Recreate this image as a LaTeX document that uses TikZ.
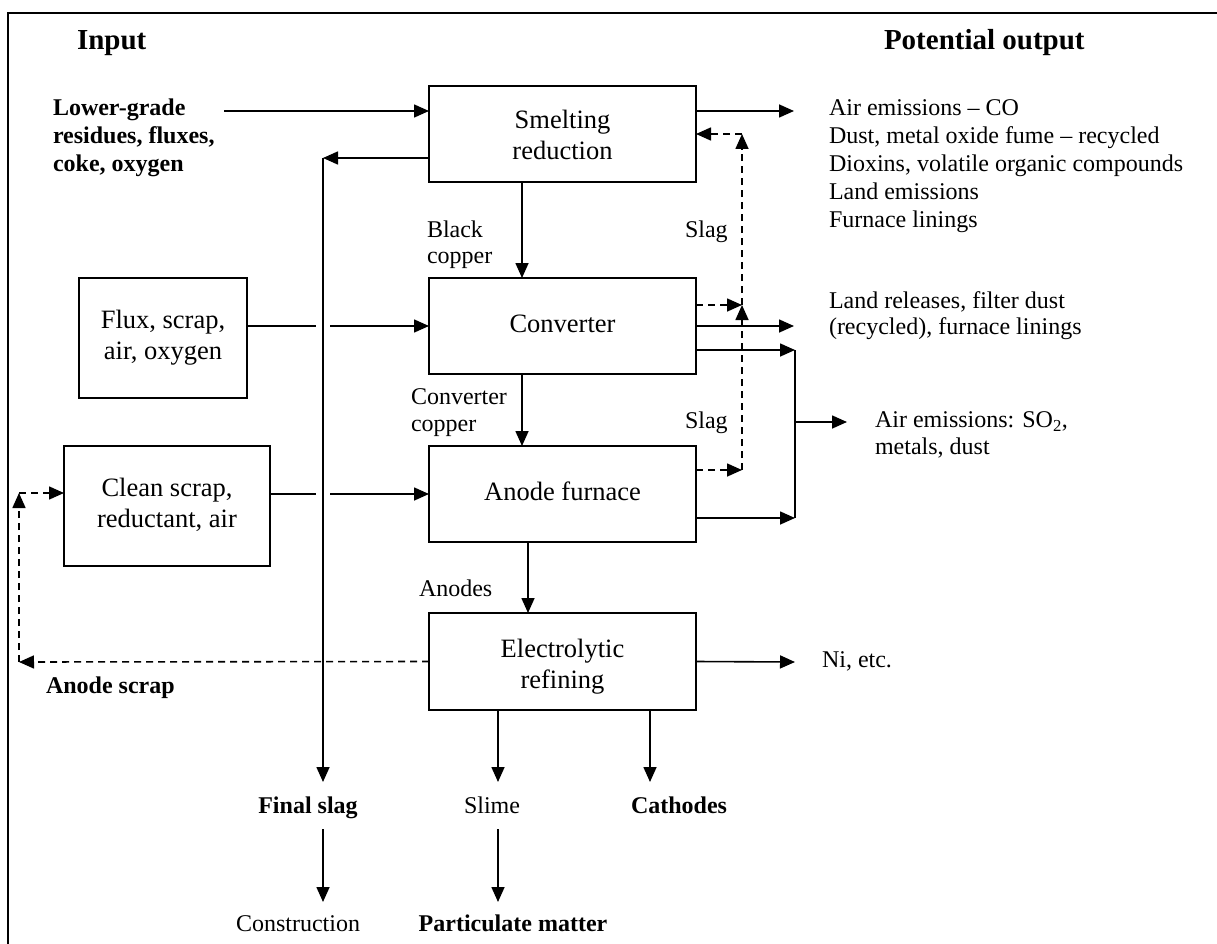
\documentclass[tikz,border=0pt]{standalone}
\usepackage{fontspec}
\setmainfont{Liberation Serif}
\usetikzlibrary{arrows.meta}
\begin{document}
\begin{tikzpicture}[x=1pt,y=-1pt,
  every node/.style={inner sep=0pt, outer sep=0pt, font=\fontsize{24}{28}\selectfont},
  box/.style={draw, line width=1.6pt, align=center, font=\fontsize{26.5}{31}\selectfont},
  btext/.style={align=center, font=\fontsize{26.5}{31}\selectfont},
  arr/.style={line width=1.6pt, -{Triangle[length=15pt,width=13pt]}},
  ln/.style={line width=1.6pt},
  dsh/.style={dash pattern=on 7pt off 5pt},
  lbl/.style={anchor=west, align=left},
  bf/.style={font=\fontsize{24}{28}\selectfont\bfseries},
  head/.style={anchor=west, font=\fontsize{29}{33}\selectfont\bfseries}]
\useasboundingbox (0,0) rectangle (1217,944);
\draw[line width=2.5pt] (8,944) -- (8,13) -- (1217,13);

% process boxes
\node[box, minimum width=267pt, minimum height=96pt] (smelt) at (562.5,134) {};
\node[btext] (smelttext) at (562.5,137.5) {\strut Smelting\\\strut reduction};
\node[box, minimum width=267pt, minimum height=96pt] (conv) at (562.5,326) {\strut Converter};
\node[box, minimum width=267pt, minimum height=96pt] (anode) at (562.5,494) {\strut Anode furnace};
\node[box, minimum width=267pt, minimum height=97pt] (elec) at (562.5,661.5) {};
\node[btext] (electext) at (562.5,667) {\strut Electrolytic\\\strut refining};
\node[box, minimum width=168pt, minimum height=120pt] (flux) at (163,338) {\strut Flux, scrap,\\\strut air, oxygen};
\node[box, minimum width=206pt, minimum height=120pt] (clean) at (167,506) {\strut Clean scrap,\\\strut reductant, air};

% headings and labels
\node[head] (inp) at (77,43) {\strut Input};
\node[head] (pout) at (884,43) {\strut Potential output};
\node[bf, lbl] (lower) at (53,138) {\strut Lower-grade\\\strut residues, fluxes,\\\strut coke, oxygen};
\node[lbl] (bc) at (427,245) {\strut Black\\[-2pt]\strut copper};
\node[lbl] (slag1) at (685,232) {\strut Slag};
\node[lbl] (cc) at (411,412.5) {\strut Converter\\[-1pt]\strut copper};
\node[lbl] (slag2) at (685,423) {\strut Slag};
\node[lbl] (anodes) at (419,591) {\strut Anodes};
\node[bf, lbl] (ascrap) at (46,688) {\strut Anode scrap};
\node[bf] (fs) at (308,808) {\strut Final slag};
\node (slime) at (492,808) {\strut Slime};
\node[bf] (cath) at (679,808) {\strut Cathodes};
\node (cons) at (298,926) {\strut Construction};
\node[bf] (pm) at (513,926) {\strut Particulate matter};
\node[lbl] (ni) at (822,662) {\strut Ni, etc.};
\node[lbl] (out1) at (829,166) {\strut Air emissions -- CO\\\strut Dust, metal oxide fume -- recycled\\\strut Dioxins, volatile organic compounds\\\strut Land emissions\\\strut Furnace linings};
\node[lbl] (out2) at (829,316) {\strut Land releases, filter dust\\[-2pt]\strut (recycled), furnace linings};
\node[lbl] (out3) at (875,435.5) {\strut Air emissions: SO\textsubscript{2},\\[-1pt]\strut metals, dust};

% coordinates
\coordinate (ls) at (224,111);
\coordinate (o1) at (794,111);
\coordinate (o2) at (794,326);
\coordinate (fsc) at (323,158);
\coordinate (sx) at (498,0);
\coordinate (cx) at (650,0);
\coordinate (g1) at (316,0);
\coordinate (g2) at (330,0);
\coordinate (s1) at (742,134);
\coordinate (s2) at (742,305);
\coordinate (s3) at (742,470);
\coordinate (j1) at (795,350);
\coordinate (j2) at (795,518);
\coordinate (j3) at (795,422);
\coordinate (o3) at (847,422);
\coordinate (o4) at (795,662);
\coordinate (a1) at (19,662);
\coordinate (a2) at (19,493);
\coordinate (bx) at (522,0);
\coordinate (ax) at (528,0);

% main flow
\draw[arr] (ls) -- (ls -| smelt.west);
\draw[arr] (smelt.east |- ls) -- (o1);
\draw[arr] (smelt.south -| bx) -- (conv.north -| bx);
\draw[arr] (conv.south -| bx) -- (anode.north -| bx);
\draw[arr] (anode.south -| ax) -- (elec.north -| ax);

% final slag
\draw[arr] (smelt.west |- fsc) -- (fsc);
\draw[arr] (fsc) -- ([yshift=12pt]fs.north -| fsc);
\draw[arr, shorten <=7pt, shorten >=10pt] (fs.south -| fsc) -- (cons.north -| fsc);

% inputs with gap across final slag line
\draw[ln] (flux.east |- conv.west) -- (g1 |- conv.west);
\draw[arr] (g2 |- conv.west) -- (conv.west);
\draw[ln] (clean.east |- anode.west) -- (g1 |- anode.west);
\draw[arr] (g2 |- anode.west) -- (anode.west);

% slag recycling (dashed)
\draw[arr, dsh] (conv.east |- s2) -- (s2);
\draw[arr, dsh] (anode.east |- s3) -- (s3);
\draw[arr, dsh] (s3) -- (s2);
\draw[arr, dsh] (s2) -- (s1);
\draw[arr, dsh] (s1) -- (smelt.east |- s1);

% converter / anode outputs
\draw[arr] (conv.east) -- (o2);
\draw[arr] (conv.east |- j1) -- (j1);
\draw[arr] (anode.east |- j2) -- (j2);
\draw[ln] (j1) -- (j2);
\draw[arr] (j3) -- (o3);

% electrolytic refining
\draw[arr] (elec.east) -- (o4);
\draw[arr] (elec.south -| sx) -- ([yshift=12pt]slime.north -| sx);
\draw[arr] (elec.south -| cx) -- ([yshift=12pt]cath.north -| cx);
\draw[arr, shorten <=7pt, shorten >=10pt] (slime.south -| sx) -- (pm.north -| sx);

% anode scrap recycling (dashed)
\draw[arr, dsh] (elec.west) -- (a1);
\draw[arr, dsh] (a1) -- (a2);
\draw[arr, dsh] (a2) -- (clean.west |- a2);
\end{tikzpicture}
\end{document}
